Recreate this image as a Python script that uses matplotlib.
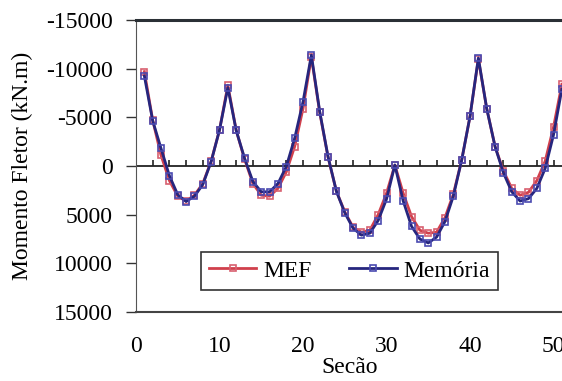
import numpy as np
import matplotlib
matplotlib.use("Agg")
import matplotlib.pyplot as plt

# Momento fletor por seção (kN.m)
secoes = list(range(1, 52))
memoria = [-9250, -4650, -1800, 1000, 2950, 3650, 3100, 1900, -450, -3700,
           -8050, -3650, -800, 1600, 2650, 2650, 1800, 50, -2850, -6600,
           -11400, -5600, -950, 2600, 4800, 6400, 7100, 6900, 5600, 3400,
           -100, 3600, 6200, 7500, 7900, 7300, 5700, 3100, -600, -5100,
           -11100, -5900, -2000, 700, 2650, 3600, 3350, 2300, 250, -3200,
           -7900]
mef = [-9700, -4700, -1100, 1500, 3100, 3600, 3000, 1800, -500, -3700,
       -8300, -3650, -700, 1800, 3000, 3100, 2300, 600, -2000, -5900,
       -11200, -5500, -900, 2600, 4700, 6300, 6800, 6600, 5000, 2800,
       -100, 2800, 5200, 6600, 6900, 6800, 5300, 2900, -600, -5100,
       -11000, -5900, -2000, 500, 2300, 3000, 2700, 1500, -500, -4000,
       -8400]

y_ticks = [-15000, -10000, -5000, 0, 5000, 10000, 15000]
x_ticks = [0, 10, 20, 30, 40, 50]

plt.rcParams['font.family'] = ['Liberation Serif', 'DejaVu Serif']

fig = plt.figure(figsize=(5.62, 3.81), dpi=100)
ax = fig.add_axes([0.242, 0.181, 0.76, 0.7665])

ax.plot(secoes, mef, color='#d0404c', lw=2.0, marker='s', ms=5,
        mfc='none', mec='#d86070', mew=1.2, label='MEF')
ax.plot(secoes, memoria, color='#26267e', lw=2.0, marker='s', ms=5,
        mfc='none', mec='#4a4ab0', mew=1.2, label='Memória')

# eixo horizontal no zero com marcas a cada 2 seções
marcas = np.arange(0, 54, 2)
ax.plot(marcas, np.zeros(len(marcas)), color='#222222', lw=1.3,
        marker=2, ms=4, mew=1.2, zorder=1)

ax.set_xlim(0, 51.15)
ax.set_ylim(15000, -15000)
ax.set_yticks(y_ticks)
ax.set_yticklabels([str(v) for v in y_ticks])
ax.set_xticks(x_ticks)

ax.tick_params(axis='y', labelsize=17, length=7, width=1, pad=10, color='#333333')
ax.tick_params(axis='x', labelsize=17, length=0, pad=17)

ax.spines['right'].set_visible(False)
ax.spines['top'].set_linewidth(2.2)
ax.spines['top'].set_color('#2a3035')
ax.spines['left'].set_color('#555555')
ax.spines['bottom'].set_linewidth(1.5)
ax.spines['bottom'].set_color('#444444')

ax.set_xlabel('Secão', fontsize=17, labelpad=0)
ax.set_ylabel('Momento Fletor (kN.m)', fontsize=17, labelpad=9)

leg = ax.legend(loc='lower center', bbox_to_anchor=(0.50, 0.035), ncol=2,
                fontsize=17, frameon=True, fancybox=False, edgecolor='black',
                handlelength=2.0, handletextpad=0.3, columnspacing=1.6,
                borderpad=0.35, markerscale=0.8)
leg.get_frame().set_linewidth(1.2)

fig.savefig('out.png', dpi=100)
